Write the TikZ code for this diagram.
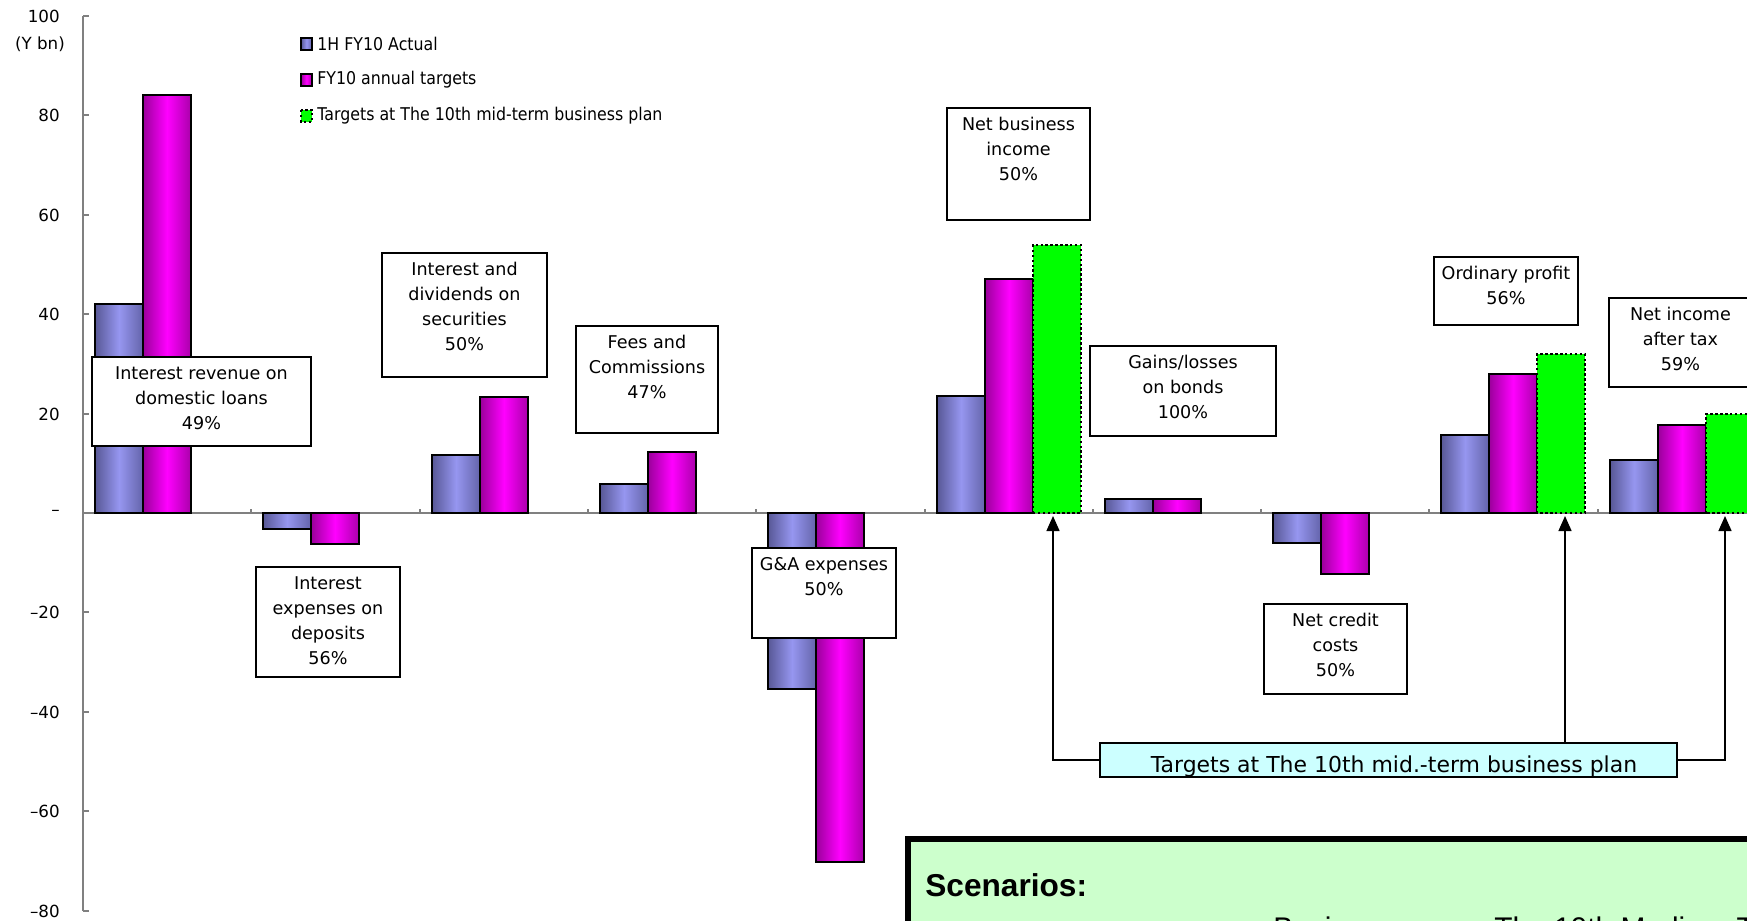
\documentclass[tikz,border=0pt]{standalone}
\usepackage{fontspec}
\setmainfont{DejaVu Sans}
\newfontfamily\legfont[FakeStretch=0.9]{DejaVu Sans}
\newfontfamily\arialfont{Liberation Sans}
\usetikzlibrary{positioning, fit, arrows.meta}

\definecolor{actl}{RGB}{88,88,150}
\definecolor{actm}{RGB}{150,150,240}
\definecolor{actr}{RGB}{100,100,170}
\definecolor{tgtl}{RGB}{155,0,155}
\definecolor{tgtm}{RGB}{255,0,255}
\definecolor{tgtr}{RGB}{170,0,170}
\definecolor{plangreen}{RGB}{0,255,0}
\definecolor{tgtfill}{RGB}{204,255,255}
\definecolor{scenfill}{RGB}{204,255,204}
\definecolor{axisgray}{RGB}{128,128,128}

\tikzset{
  actbar/.style={draw=black, line width=0.8pt, left color=actl, right color=actr, middle color=actm},
  tgtbar/.style={draw=black, line width=0.8pt, left color=tgtl, right color=tgtr, middle color=tgtm},
  planbar/.style={fill=plangreen, draw=black, line width=1.1pt, dash pattern=on 1.4pt off 1.4pt},
  lblbox/.style={draw, line width=1pt, fill=white, inner sep=0pt},
  lbltxt/.style={align=center, inner sep=0pt, font=\fontsize{10}{14.2}\selectfont},
  legtxt/.style={anchor=west, inner sep=0pt, font=\legfont\fontsize{10}{12}\selectfont},
  ylab/.style={anchor=east, inner sep=0pt, font=\fontsize{9.5}{11}\selectfont},
  conn/.style={line width=0.8pt, -{Triangle[length=0.3cm, width=0.26cm]}},
  axisline/.style={draw=axisgray, line width=0.8pt},
}

\begin{document}
\begin{tikzpicture}[x=0.02cm, y=-0.02cm]
    \useasboundingbox (0,0) rectangle (1747,920);
    \clip (0,0) rectangle (1747,920);

    % Axes
    \draw[axisline] (83,513) -- (1747,513);
    \foreach \x in {251,420,588,756,925,1093,1261,1429,1598}
        \draw[axisline] (\x,513) -- (\x,509);
    \draw[axisline] (83,16) -- (83,911);
    \foreach \y/\lab in {16/100, 115/80, 215/60, 314/40, 414/20, 513/–, 612/–20, 712/–40, 811/–60, 911/–80} {
        \draw[axisline] (83,\y) -- (89,\y);
        \node[ylab] (yl\y) at (60,\y) {\lab};
    }
    \node[ylab, anchor=center] (unit) at (40,44) {(Y bn)};

    % Legend
    \draw[actbar] (301,38) rectangle (312,50);
    \node[legtxt] (leg1) at (317,44) {1H FY10 Actual};
    \draw[tgtbar] (301,74) rectangle (312,86);
    \node[legtxt] (leg2) at (317,80) {FY10 annual targets};
    \draw[planbar] (301,110) rectangle (312,122);
    \node[legtxt] (leg3) at (317,116) {Targets at The 10th mid-term business plan};

    % Bars
    \draw[actbar] (95,513) rectangle (143,304);
    \draw[tgtbar] (143,513) rectangle (191,95);

    \draw[actbar] (263,513) rectangle (311,529);
    \draw[tgtbar] (311,513) rectangle (359,544);

    \draw[actbar] (432,513) rectangle (480,455);
    \draw[tgtbar] (480,513) rectangle (528,397);

    \draw[actbar] (600,513) rectangle (648,484);
    \draw[tgtbar] (648,513) rectangle (696,452);

    \draw[actbar] (768,513) rectangle (816,689);
    \draw[tgtbar] (816,513) rectangle (864,862);

    \draw[actbar] (937,513) rectangle (985,396);
    \draw[tgtbar] (985,513) rectangle (1033,279);
    \draw[planbar] (1033,513) rectangle (1081,245);

    \draw[actbar] (1105,513) rectangle (1153,499);
    \draw[tgtbar] (1153,513) rectangle (1201,499);

    \draw[actbar] (1273,513) rectangle (1321,543);
    \draw[tgtbar] (1321,513) rectangle (1369,574);

    \draw[actbar] (1441,513) rectangle (1489,435);
    \draw[tgtbar] (1489,513) rectangle (1537,374);
    \draw[planbar] (1537,513) rectangle (1585,354);

    \draw[actbar] (1610,513) rectangle (1658,460);
    \draw[tgtbar] (1658,513) rectangle (1706,425);
    \draw[planbar] (1706,513) rectangle (1754,414);

    % Labels
    \node[lblbox, fit={(92,357) (311,446)}] (b1) {};
    \node[lbltxt, below=2mm of b1.north] (t1) {Interest revenue on\\domestic loans\\49\%};
    \node[lblbox, fit={(256,567) (400,677)}] (b2) {};
    \node[lbltxt, below=2mm of b2.north] (t2) {Interest\\expenses on\\deposits\\56\%};
    \node[lblbox, fit={(382,253) (547,377)}] (b3) {};
    \node[lbltxt, below=2mm of b3.north] (t3) {Interest and\\dividends on\\securities\\50\%};
    \node[lblbox, fit={(576,326) (718,433)}] (b4) {};
    \node[lbltxt, below=2mm of b4.north] (t4) {Fees and\\Commissions\\47\%};
    \node[lblbox, fit={(752,548) (896,638)}] (b5) {};
    \node[lbltxt, below=2mm of b5.north] (t5) {G\&A expenses\\50\%};
    \node[lblbox, fit={(947,108) (1090,220)}] (b6) {};
    \node[lbltxt, below=2mm of b6.north] (t6) {Net business\\income\\50\%};
    \node[lblbox, fit={(1090,346) (1276,436)}] (b7) {};
    \node[lbltxt, below=2mm of b7.north] (t7) {Gains/losses\\on bonds\\100\%};
    \node[lblbox, fit={(1264,604) (1407,694)}] (b8) {};
    \node[lbltxt, below=2mm of b8.north] (t8) {Net credit\\costs\\50\%};
    \node[lblbox, fit={(1434,257) (1578,325)}] (b9) {};
    \node[lbltxt, below=2mm of b9.north] (t9) {Ordinary profit\\56\%};
    \node[lblbox, fit={(1609,298) (1752,387)}] (b10) {};
    \node[lbltxt, below=2mm of b10.north] (t10) {Net income\\after tax\\59\%};

    % Targets box and arrows
    \node[lblbox, fill=tgtfill, fit={(1100,743) (1677,777)}] (tgt) {};
    \node[inner sep=0pt, anchor=base, font=\fontsize{12.5}{15}\selectfont] (tgttxt) at (1394,772) {Targets at The 10th mid.-term business plan};
    \coordinate (a6) at (1053,516);
    \coordinate (a9) at (1565,516);
    \coordinate (a10) at (1725,516);
    \draw[conn] (tgt.west) -| (a6);
    \draw[conn] (tgt.north -| a9) -- (a9);
    \draw[conn] (tgt.east) -| (a10);

    % Scenarios
    \draw[line width=3.4pt, fill=scenfill] (908,839) rectangle (1800,1000);
    \node[anchor=base west, inner sep=0pt, font=\arialfont\bfseries\fontsize{18}{21}\selectfont] (scen) at (925,896) {Scenarios:};
    \node[anchor=base west, inner sep=0pt, font=\arialfont\fontsize{17}{20}\selectfont] (basic) at (1273,938) {Basic};
    \node[anchor=base west, inner sep=0pt, font=\arialfont\fontsize{17}{20}\selectfont] (mtp) at (1494,938) {The 10th Medium-Term};

\end{tikzpicture}
\end{document}
